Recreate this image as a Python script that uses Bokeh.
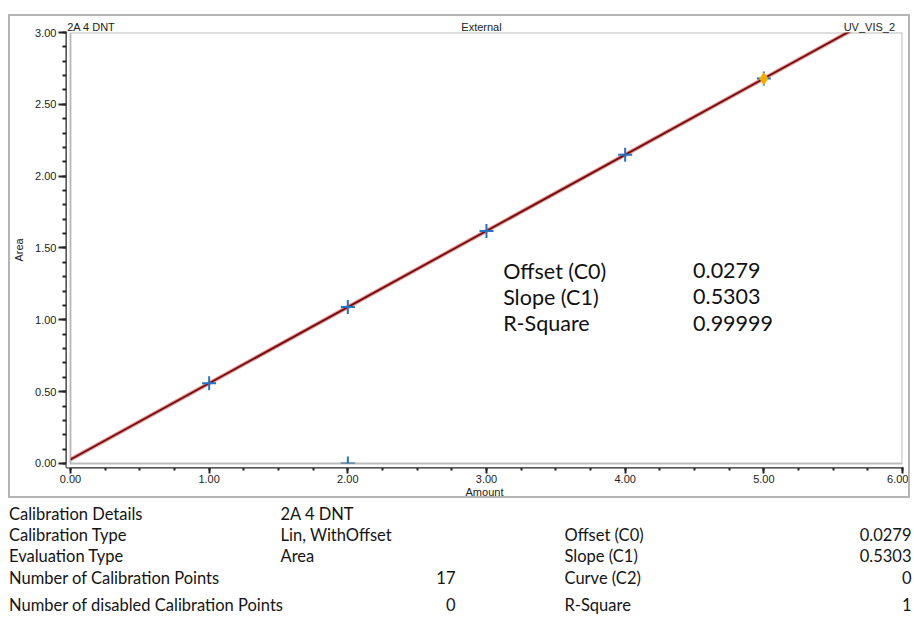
from bokeh.plotting import figure
from bokeh.models import (FixedTicker, BoxAnnotation, Label, Range1d, ColumnDataSource,
                          LinearAxis)
from bokeh.layouts import column
from bokeh.embed import file_html
from bokeh.resources import INLINE
from bokeh.core.properties import value

# ---------------- data ----------------
amount = [1.0, 2.0, 3.0, 4.0, 5.0, 2.0]
area = [0.558, 1.089, 1.619, 2.149, 2.679, 0.0]
highlight_amount = [5.0]
highlight_area = [2.679]

offset_c0 = 0.0279
slope_c1 = 0.5303
line_amount = [0.0, 6.0]

x_ticks = [0, 1, 2, 3, 4, 5, 6]
x_tick_labels = ["0.00", "1.00", "2.00", "3.00", "4.00", "5.00", "6.00"]
x_minor = [i * 0.25 for i in range(25)]
y_ticks = [0.0, 0.5, 1.0, 1.5, 2.0, 2.5, 3.0]
y_tick_labels = ["0.00", "0.50", "1.00", "1.50", "2.00", "2.50", "3.00"]
y_minor = [i / 10 for i in range(31)]

header_texts = ["2A 4 DNT", "External", "UV_VIS_2"]

stats_labels = ["Offset (C0)", "Slope (C1)", "R-Square"]
stats_values = ["0.0279", "0.5303", "0.99999"]

table_left_labels = ["Calibration Details", "Calibration Type", "Evaluation Type",
                     "Number of Calibration Points", "Number of disabled Calibration Points"]
table_left_values = ["2A 4 DNT", "Lin, WithOffset", "Area", "", ""]
table_left_counts = ["", "", "", "17", "0"]
table_right_labels = ["", "Offset (C0)", "Slope (C1)", "Curve (C2)", "R-Square"]
table_right_values = ["", "0.0279", "0.5303", "0", "1"]

# ---------------- chart figure ----------------
CW, CH = 902, 484           # outer size incl. 2px grey border
IW, IH = CW - 4, CH - 4     # inner canvas
FL, FT, FR, FB = 48, 16, 888, 447   # frame edges in inner-canvas px
px_x = (FR - FL - 4) / 6.0
px_y = (FB - FT - 4) / 3.0

p = figure(width=CW, height=CH, output_backend="svg", toolbar_location=None,
           x_range=Range1d(-4 / px_x, 6.0), y_range=Range1d(-4 / px_y, 3.0),
           min_border_left=FL, min_border_right=IW - FR, min_border_top=FT,
           min_border_bottom=IH - FB,
           styles={"border": "2px solid #b4b4b4", "box-sizing": "border-box"})
p.frame_align = False
p.outline_line_color = None
p.grid.visible = False

tick_font = "Liberation Sans"
for ax in (p.xaxis[0], p.yaxis[0]):
    ax.axis_line_color = "#222222"
    ax.axis_line_width = 2
    ax.major_tick_line_color = "#222222"
    ax.major_tick_line_width = 2
    ax.minor_tick_line_color = "#222222"
    ax.minor_tick_line_width = 2
    ax.major_tick_in = 0
    ax.minor_tick_in = 0
    ax.major_label_text_font = tick_font
    ax.major_label_text_font_size = "11px"
    ax.major_label_text_color = "#222222"
    ax.axis_label_text_font = tick_font
    ax.axis_label_text_font_size = "11px"
    ax.axis_label_text_font_style = "normal"
    ax.axis_label_text_color = "#222222"

p.xaxis.ticker = FixedTicker(ticks=x_ticks, minor_ticks=x_minor)
p.xaxis.major_label_overrides = dict(zip(x_ticks, x_tick_labels))
p.xaxis.major_tick_out = 6
p.xaxis.minor_tick_out = 3
p.xaxis.major_label_standoff = 1
p.xaxis.axis_label = "Amount"
p.xaxis.axis_label_standoff = 0

p.yaxis.ticker = FixedTicker(ticks=y_ticks, minor_ticks=y_minor)
p.yaxis.major_label_overrides = dict(zip(y_ticks, y_tick_labels))
p.yaxis.major_tick_out = 8
p.yaxis.minor_tick_out = 4
p.yaxis.major_label_standoff = 2
p.yaxis.axis_label = "Area"
p.yaxis.axis_label_standoff = 7

# header row drawn as labels of an unlined axis above the frame
header_pos = [0.15, 2.964, 5.761]
head_axis = LinearAxis(ticker=FixedTicker(ticks=header_pos, minor_ticks=[]),
                       major_label_overrides=dict(zip(header_pos, header_texts)))
head_axis.axis_line_color = None
head_axis.major_tick_line_color = None
head_axis.minor_tick_line_color = None
head_axis.major_tick_out = 0
head_axis.major_tick_in = 0
head_axis.major_label_standoff = 0
head_axis.major_label_text_font = tick_font
head_axis.major_label_text_font_size = "11px"
head_axis.major_label_text_color = "#222222"
p.add_layout(head_axis, "above")

# calibration line
line_area = [offset_c0 + slope_c1 * x for x in line_amount]
src_line = ColumnDataSource(dict(x=line_amount, y=line_area))
p.line("x", "y", source=src_line, line_color="#d23c3c", line_width=4, line_alpha=0.55)
p.line("x", "y", source=src_line, line_color="#6e0e0e", line_width=1.8)

# points
src_pts = ColumnDataSource(dict(x=amount, y=area))
p.scatter("x", "y", source=src_pts, marker="cross", size=14, line_color="#2a70c0",
          line_width=2)
src_hi = ColumnDataSource(dict(x=highlight_amount, y=highlight_area))
p.scatter("x", "y", source=src_hi, marker="diamond", size=12, fill_color="#f2a900",
          line_color="#f5b800", line_width=1)

# gap between plot box and axes stays white
p.add_layout(BoxAnnotation(top=0, fill_color="white", fill_alpha=1, line_color=None))
p.add_layout(BoxAnnotation(right=0, fill_color="white", fill_alpha=1, line_color=None))
# inner plot box
p.add_layout(BoxAnnotation(left=0, right=6, bottom=0, top=3, fill_color=None,
                           line_color="#222222", line_width=2))

# statistics text inside the plot
stat_y = [1.342, 1.159, 0.977]
for t_, v_, yy in zip(stats_labels, stats_values, stat_y):
    for txt, xx in ((t_, 3.12), (v_, 4.49)):
        p.add_layout(Label(x=xx, y=yy, text=txt, text_baseline="middle",
                           text_font="Lato", text_font_size="21.5px",
                           text_color="#111111"))

# ---------------- table figure ----------------
TW, TH = 904, 118
t = figure(width=TW, height=TH, output_backend="svg", toolbar_location=None,
           x_range=Range1d(0, TW), y_range=Range1d(TH, 0),
           x_axis_location=None, y_axis_location=None,
           min_border=0, min_border_left=0, min_border_right=0,
           min_border_top=0, min_border_bottom=0)
t.frame_align = False
t.grid.visible = False
t.outline_line_color = None

rows_y = [15, 36, 57, 79, 106]
left_items = ([(s, 0.5, y) for s, y in zip(table_left_labels, rows_y)] +
              [(s, 272, y) for s, y in zip(table_left_values, rows_y) if s] +
              [(s, 556, y) for s, y in zip(table_right_labels, rows_y) if s])
right_items = ([(s, 447, y) for s, y in zip(table_left_counts, rows_y) if s] +
               [(s, 903, y) for s, y in zip(table_right_values, rows_y) if s])

for items, align in ((left_items, "left"), (right_items, "right")):
    src = ColumnDataSource(dict(text=[i[0] for i in items], x=[i[1] for i in items],
                                y=[i[2] for i in items]))
    t.text("x", "y", text="text", source=src, text_align=align,
           text_baseline="middle", text_font=value("Lato"), text_font_size="16.5px",
           text_color="#141414")

layout = column(p, t)
layout.margin = (14, 0, 0, 8)
open("out.html", "w").write(file_html(layout, INLINE))
